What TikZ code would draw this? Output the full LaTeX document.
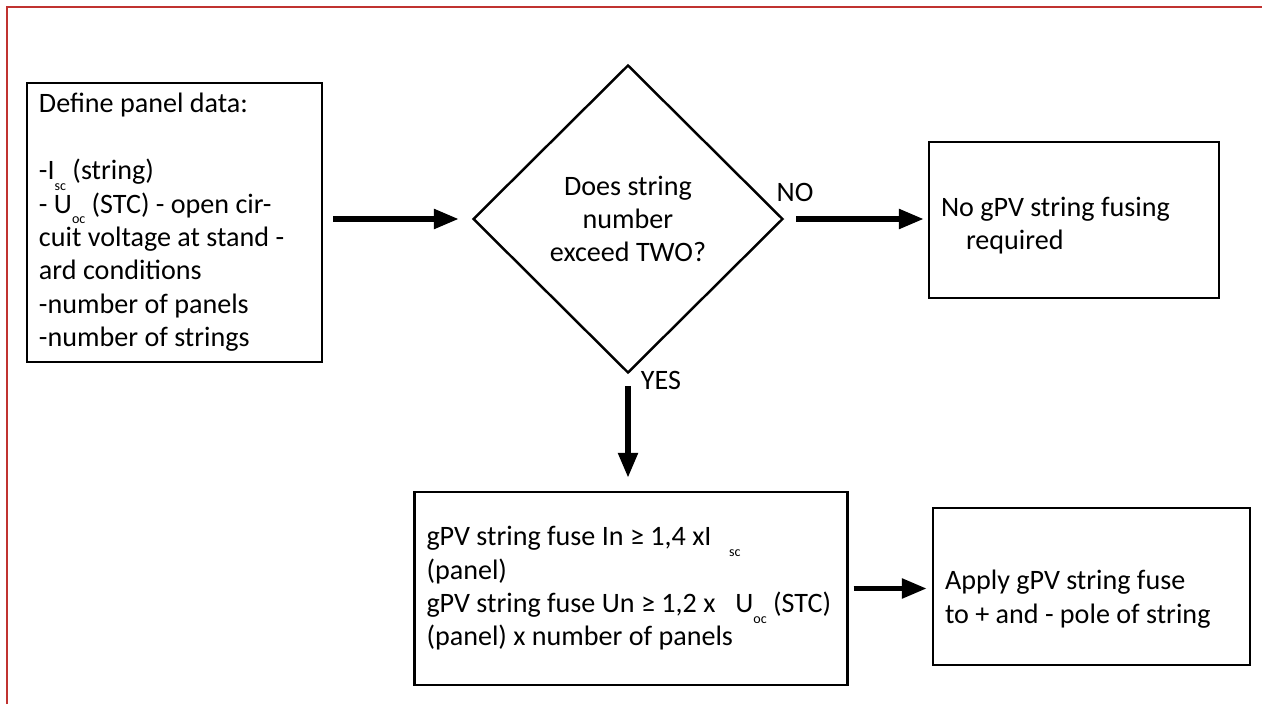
\documentclass[tikz,border=0pt]{standalone}
\usepackage{fontspec}
\setmainfont{Carlito}
\usetikzlibrary{shapes.geometric,arrows.meta}
\definecolor{framered}{RGB}{192,50,48}
\newcommand{\lowsub}[1]{\raisebox{-0.8ex}{\fontsize{8}{8}\selectfont #1}}

\begin{document}
\begin{tikzpicture}[x=0.2mm,y=-0.2mm,
    font=\fontsize{16}{19}\selectfont,
    box/.style={draw, line width=1.4pt, align=flush left, inner xsep=2.4mm, inner ysep=0pt},
    decision/.style={draw, diamond, line width=1.4pt, align=center, inner sep=0pt,
      minimum width=62mm, minimum height=61.6mm},
    arr/.style={-{Triangle[length=5mm,width=3.8mm]}, line width=1.1mm}]
  \useasboundingbox (0,0) rectangle (1262,704);
  \draw[framered, line width=0.45mm] (7,704) -- (7,7) -- (1262,7);

  \node[box, text width=54.2mm, minimum height=55.8mm] (data) at (174.5,222.5)
    {Define panel data:\\[19pt]
     -I\lowsub{sc} (string)\\
     - U\lowsub{oc} (STC) - open cir-\\
     cuit voltage at stand -\\
     ard conditions\\
     -number of panels\\
     -number of strings};
  \node[box, text width=53.2mm, minimum height=31.2mm] (nofuse) at (1074,220)
    {\rule{0pt}{6.2mm}No gPV string fusing\\\hspace*{5mm}required};
  \node[decision] (check) at (628,219) {Does string\\number\\exceed TWO?};
  \node[box, text width=81.8mm, minimum height=38.6mm] (fuses) at (631,588.5)
    {gPV string fuse In ≥ 1,4 xI\hspace{3.5mm}\lowsub{sc}\\
     (panel)\\
     gPV string fuse Un ≥ 1,2 x\hspace{4mm}U\lowsub{oc} (STC)\\
     (panel) x number of panels};
  \node[box, text width=58.6mm, minimum height=31.4mm] (apply) at (1091.5,586.5)
    {\rule{0pt}{9mm}Apply gPV string fuse\\to + and - pole of string};

  \node (no) at (795,192) {NO};
  \node (yes) at (661,380) {YES};

  \draw[arr, shorten <=2mm, shorten >=2.6mm] (data.east |- check.west) -- (check.west);
  \draw[arr, shorten <=2.4mm, shorten >=0.8mm] (check.east) -- (nofuse.west |- check.east);
  \draw[arr, shorten <=2.4mm, shorten >=2.6mm] (check.south) -- (check.south |- fuses.north);
  \draw[arr, shorten <=1mm, shorten >=1mm] (fuses.east) -- (fuses.east -| apply.west);
\end{tikzpicture}
\end{document}
